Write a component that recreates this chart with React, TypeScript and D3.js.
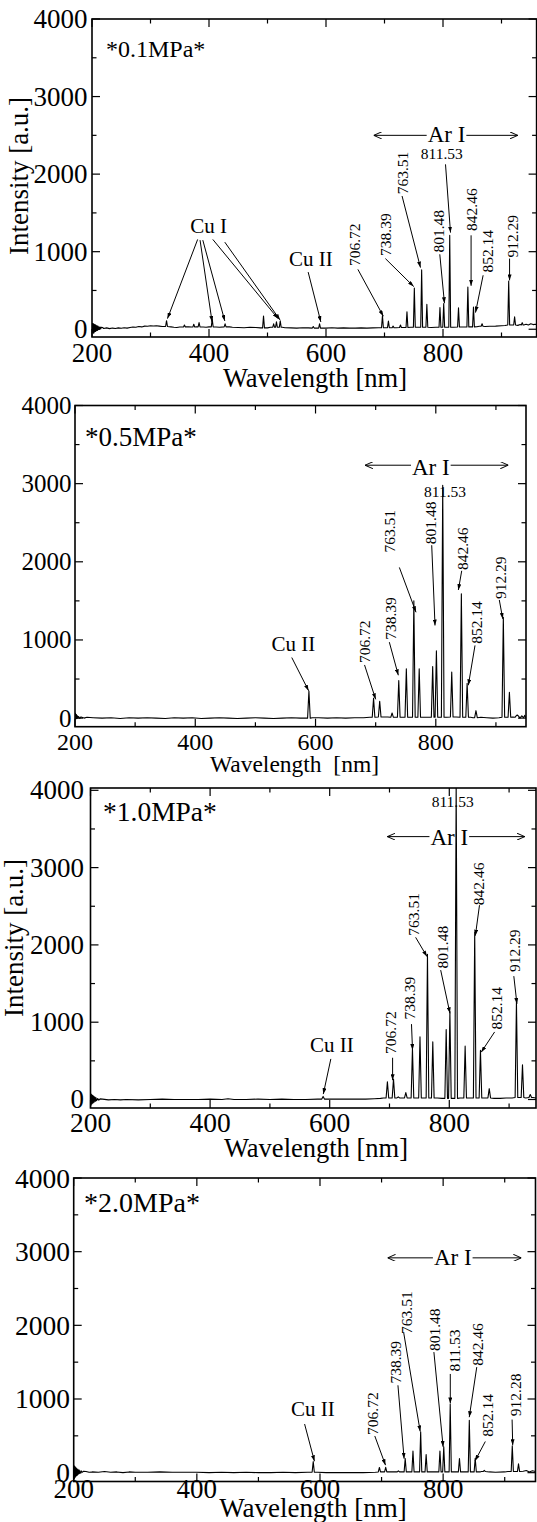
import React from "react";
import * as d3 from "d3";

const FONT = "'Liberation Serif','Times New Roman',Times,serif";

// ---------- shared axis data ----------
const xMajorTicks = [200, 400, 600, 800];
const xMinorTicks = [300, 500, 700, 900];
const yMajorTicks = [0, 1000, 2000, 3000, 4000];
const yMinorTicks = [500, 1500, 2500, 3500];
const xTitles = ["Wavelength [nm]", "Wavelength  [nm]", "Wavelength [nm]", "Wavelength [nm]"];
const yTitle = "Intensity [a.u.]";
const panelLabels = ["*0.1MPa*", "*0.5MPa*", "*1.0MPa*", "*2.0MPa*"];
const arLabel = "Ar I";

// ---------- panel 1 : 0.1 MPa ----------
const p1PeakWl = [327.4, 358, 374, 383, 405.5, 427.5, 493.2, 510.5, 515.3, 521.8, 578.2, 589.0, 696.5, 706.7, 714.7, 727.3, 738.4, 751.0, 763.5, 772.4, 794.8, 801.2, 811.5, 826.5, 842.5, 852.1, 866.8, 912.3, 922.4, 935.4];
const p1PeakInt = [110, 55, 65, 85, 130, 70, 170, 70, 95, 110, 35, 70, 175, 105, 40, 55, 225, 530, 765, 320, 280, 330, 1210, 275, 545, 285, 70, 622, 160, 85];
const p1BaseWl = [200.5, 201.3, 202.1, 202.9, 203.7, 204.5, 205.3, 206.1, 206.9, 207.7, 208.5, 209.3, 210.1, 211, 212, 213, 214, 215, 216, 218, 220, 225, 230, 235, 240, 245, 250, 255, 260, 265, 270, 275, 280, 285, 290, 295, 300, 305, 310, 315, 320, 335, 340, 345, 350, 365, 370, 378, 390, 395, 400, 412, 418, 435, 440, 450, 460, 470, 480, 488, 500, 505, 525, 530, 540, 550, 560, 570, 580, 600, 610, 620, 630, 640, 650, 660, 670, 680, 690, 720, 733, 745, 757, 768, 780, 788, 806, 818, 834, 848, 858, 862, 872, 880, 890, 900, 906, 918, 928, 932, 938, 942, 946, 950, 954, 958, 960];
const p1BaseInt = [80, -45, 75, -50, 65, -35, 60, -30, 50, -20, 45, -15, 40, -5, 32, 0, 28, 5, 25, 22, 10, 18, 8, 15, 10, 18, 12, 20, 14, 22, 28, 25, 35, 30, 40, 38, 45, 42, 45, 40, 35, 30, 25, 22, 28, 30, 28, 30, 28, 25, 30, 28, 25, 30, 25, 22, 20, 25, 22, 18, 18, 25, 25, 20, 18, 15, 20, 18, 15, 15, 20, 15, 18, 15, 15, 18, 15, 18, 20, 20, 22, 25, 25, 25, 22, 25, 25, 25, 28, 30, 32, 38, 35, 38, 40, 45, 48, 55, 50, 60, 55, 65, 55, 70, 60, 65, 60];
const p1VLabels: [string, number, number][] = [["706.72", 649, 815], ["738.39", 702, 945], ["763.51", 730, 1740], ["801.48", 793, 988], ["842.46", 849.5, 1267], ["852.14", 875.5, 730], ["912.29", 918, 924]];
const p1HLabels: [string, number, number][] = [["811.53", 798, 2200]];
const p1Species: [string, number, number][] = [["Cu I", 399.4, 1243], ["Cu II", 574, 815]];
const p1Arrows: [number, number, number, number][] = [[654.5, 772, 698, 168], [701.5, 911, 750, 550], [730, 1718, 761.5, 795], [794.5, 966, 802.5, 335], [804.3, 2126, 812.8, 1246], [848, 1211, 848, 560], [868.6, 696, 855.6, 215], [913.8, 911, 913.8, 630], [380.6, 1158, 329, 137], [384.7, 1149, 405.3, 94], [389.4, 1149, 427, 107], [406.5, 1158, 518, 137], [427, 1123, 521.4, 120], [569.5, 737, 591.2, 94]];
const p1ArI = [681.5, 928, 2500, 806, 2420];

// ---------- panel 2 : 0.5 MPa ----------
const p2PeakWl = [589.0, 696.5, 706.7, 727.3, 738.4, 751.0, 763.5, 772.4, 794.8, 801.0, 811.5, 826.5, 842.5, 852.1, 866.8, 912.3, 922.4, 935.4];
const p2PeakInt = [345, 255, 215, 65, 480, 630, 1500, 630, 660, 860, 2980, 590, 1590, 445, 95, 1290, 330, 40];
const p2BaseWl = [200, 200.8, 201.6, 202.4, 203.2, 204, 205, 206, 208, 210, 215, 220, 230, 245, 260, 275, 290, 305, 320, 335, 350, 365, 380, 395, 410, 425, 440, 455, 470, 485, 500, 515, 530, 545, 560, 575, 583, 595, 605, 620, 635, 650, 665, 680, 690, 715, 720, 733, 745, 757, 768, 780, 788, 806, 818, 834, 848, 858, 862, 875, 885, 895, 905, 917, 928, 932, 936, 940, 943, 946, 948, 950];
const p2BaseInt = [20, 60, -10, 45, -5, 30, 0, 20, -5, 15, 0, 10, 5, 0, 5, -5, 5, 0, 5, 0, -5, 5, 0, 5, -5, 0, 5, 0, -5, 0, 5, 0, -5, 0, 5, 0, 0, 5, 5, 0, 5, 0, 5, 5, 10, 15, 15, 10, 10, 10, 10, 10, 10, 10, 10, 15, 10, 10, 5, 10, 5, 0, 5, 10, 15, 10, 25, 0, 30, 5, 35, 0, 20];
const p2VLabels: [string, number, number][] = [["706.72", 680.6, 705], ["738.39", 724.7, 1002], ["763.51", 723, 2119], ["801.48", 790.4, 2225], ["842.46", 844.4, 1894], ["852.14", 868.5, 951], ["912.29", 908, 1524]];
const p2HLabels: [string, number, number][] = [["811.53", 815.3, 2828]];
const p2Species: [string, number, number][] = [["Cu II", 563.3, 855]];
const p2Arrows: [number, number, number, number][] = [[681.5, 680, 700, 240], [722.7, 972, 737.7, 548], [739.4, 1928, 767.1, 1354], [793.2, 2212, 798.7, 1185], [843.1, 1885, 837.5, 1639], [865.2, 930, 854.1, 420], [905.6, 1512, 911.3, 1270], [560.5, 775, 588.5, 350]];
const p2ArI = [682.3, 920.6, 3236, 791.7, 3117];

// ---------- panel 3 : 1.0 MPa ----------
const p3PeakWl = [589.0, 696.5, 706.7, 714.7, 727.3, 738.4, 751.0, 763.5, 772.4, 794.8, 801.0, 811.5, 826.5, 842.5, 852.1, 866.8, 912.3, 922.4, 935.4];
const p3PeakInt = [40, 230, 265, 35, 90, 660, 810, 1880, 745, 905, 1140, 4120, 690, 2165, 635, 140, 1270, 450, 65];
const p3BaseWl = [200.3, 201.1, 201.9, 202.7, 203.5, 204.3, 205.1, 206, 207, 208, 209, 210, 212, 214, 216, 220, 230, 240, 250, 260, 280, 300, 320, 340, 360, 380, 400, 420, 430, 440, 460, 480, 500, 520, 540, 560, 580, 600, 620, 640, 660, 675, 685, 690, 720, 733, 745, 757, 768, 780, 788, 806, 818, 834, 848, 858, 862, 875, 885, 895, 905, 917, 928, 940, 945];
const p3BaseInt = [80, -70, 65, -55, 55, -45, 45, -35, 35, -25, 25, -15, 12, -8, 8, 5, -5, 0, -5, 0, -5, 0, 5, 0, 0, 0, 5, 0, 10, 0, 0, 5, 0, 5, 0, 0, 5, 5, 5, 5, 5, 10, 15, 20, 20, 20, 20, 20, 20, 20, 15, 15, 20, 20, 20, 20, 20, 15, 15, 20, 20, 25, 20, 25, 20];
const p3VLabels: [string, number, number][] = [["706.72", 702.4, 590], ["738.39", 734, 1036], ["763.51", 739.5, 2120], ["801.48", 788.5, 1696], ["842.46", 848.8, 2514], ["852.14", 879.2, 905], ["912.29", 909, 1648]];
const p3HLabels: [string, number, number][] = [["811.53", 805.7, 3790]];
const p3Species: [string, number, number][] = [["Cu II", 603.6, 612]];
const p3Arrows: [number, number, number, number][] = [[705.2, 540, 705.2, 250], [736.8, 975, 738.5, 640], [743.7, 2098, 762.7, 1849], [785.6, 1674, 801.1, 1115], [850.5, 2514, 843.6, 2120], [875.8, 874, 853.4, 612], [907.9, 1596, 913.1, 1237], [601.9, 525, 589.3, 70]];
const p3ArI = [696.6, 926.3, 3401, 800, 3292];

// ---------- panel 4 : 2.0 MPa ----------
const p4PeakWl = [589.0, 696.5, 706.7, 727.3, 738.4, 751.0, 763.5, 772.4, 794.8, 801.0, 811.5, 826.5, 842.5, 852.1, 866.8, 912.3, 922.4];
const p4PeakInt = [150, 70, 72, 25, 190, 295, 555, 245, 295, 350, 930, 190, 710, 195, 30, 365, 120];
const p4BaseWl = [200.3, 201.1, 201.9, 202.7, 203.5, 204.3, 205.1, 206, 207, 208, 209, 210, 212, 214, 216, 220, 225, 230, 240, 250, 260, 270, 280, 290, 300, 320, 340, 360, 380, 400, 420, 440, 460, 480, 500, 520, 540, 560, 580, 596, 610, 630, 650, 670, 690, 700, 720, 733, 745, 757, 768, 780, 788, 806, 818, 834, 848, 860, 862, 875, 885, 900, 905, 917, 930, 935, 940, 945, 950];
const p4BaseInt = [100, -80, 85, -60, 70, -45, 55, -35, 45, -20, 35, -10, 25, 5, 20, 15, 5, 10, 5, 15, 5, 10, 0, 10, 5, 5, 10, 5, 5, 5, 0, 5, 0, 5, 0, 0, 5, 0, 5, 5, 0, 0, 0, 0, 5, 10, 10, 10, 10, 10, 10, 10, 10, 10, 10, 10, 10, 10, 15, 10, 5, 10, 15, 15, 20, 30, 10, 25, 15];
const p4VLabels: [string, number, number][] = [["706.72", 685, 512], ["738.39", 722.2, 1209], ["763.51", 740.6, 1884], ["801.48", 786.6, 1651], ["811.53", 818.4, 1372], ["842.46", 855.7, 1451], ["852.14", 871.3, 488], ["912.28", 917, 767]];
const p4HLabels: [string, number, number][] = [];
const p4Species: [string, number, number][] = [["Cu II", 588.3, 767]];
const p4Arrows: [number, number, number, number][] = [[689, 498, 706.4, 102], [726.6, 1186, 736.6, 190], [736, 1898, 762.7, 560], [785, 1637, 800, 350], [811.6, 1340, 811.6, 940], [854.6, 1433, 842.4, 753], [868.5, 423, 851.8, 160], [912, 721, 913, 372], [575, 660, 591, 155]];
const p4ArI = [709.7, 927, 2916, 815.6, 2814];

// ---------- layout (positions / styles) ----------
const layouts = [
  { left: 92, right: 536.6, top: 19, bottom: 337, xMax: 960, yMin: -100, yMax: 4000, yTickFont: 27, xTickFont: 27, xTickBase: 361.5, yTickRight: 87.5, titleBase: 387, titleX: 315, titleFont: 26.5, yTitleX: 28, yTitleY: 176, labelX: 106, labelBase: 57, labelFont: 24, hw: 1.6 },
  { left: 75, right: 526, top: 405.5, bottom: 726.7, xMax: 950, yMin: -110, yMax: 4000, yTickFont: 25, xTickFont: 24, xTickBase: 750, yTickRight: 71.5, titleBase: 772, titleX: 294.5, titleFont: 23.5, yTitleX: null, yTitleY: 0, labelX: 85, labelBase: 446, labelFont: 27, hw: 2.2 },
  { left: 90.5, right: 536, top: 788, bottom: 1108, xMax: 945, yMin: -110, yMax: 4030, yTickFont: 27, xTickFont: 27.5, xTickBase: 1132, yTickRight: 84, titleBase: 1157, titleX: 316, titleFont: 26.5, yTitleX: 23, yTitleY: 938, labelX: 103, labelBase: 821, labelFont: 27.5, hw: 2.2 },
  { left: 73.7, right: 535.5, top: 1178, bottom: 1481.5, xMax: 950, yMin: -120, yMax: 4000, yTickFont: 27.5, xTickFont: 27, xTickBase: 1498, yTickRight: 70, titleBase: 1516.5, titleX: 313, titleFont: 27, yTitleX: null, yTitleY: 0, labelX: 84, labelBase: 1212, labelFont: 28, hw: 1.8 },
];

const panels = [
  { peakWl: p1PeakWl, peakInt: p1PeakInt, baseWl: p1BaseWl, baseInt: p1BaseInt, vLabels: p1VLabels, hLabels: p1HLabels, species: p1Species, arrows: p1Arrows, arI: p1ArI },
  { peakWl: p2PeakWl, peakInt: p2PeakInt, baseWl: p2BaseWl, baseInt: p2BaseInt, vLabels: p2VLabels, hLabels: p2HLabels, species: p2Species, arrows: p2Arrows, arI: p2ArI },
  { peakWl: p3PeakWl, peakInt: p3PeakInt, baseWl: p3BaseWl, baseInt: p3BaseInt, vLabels: p3VLabels, hLabels: p3HLabels, species: p3Species, arrows: p3Arrows, arI: p3ArI },
  { peakWl: p4PeakWl, peakInt: p4PeakInt, baseWl: p4BaseWl, baseInt: p4BaseInt, vLabels: p4VLabels, hLabels: p4HLabels, species: p4Species, arrows: p4Arrows, arI: p4ArI },
];

type Pt = [number, number];

function buildSpectrum(baseWl: number[], baseInt: number[], peakWl: number[], peakInt: number[], hw: number): Pt[] {
  const pts: Pt[] = [];
  const nearest = (w: number) => {
    let bi = 0;
    let bd = Infinity;
    baseWl.forEach((b, i) => {
      const d = Math.abs(b - w);
      if (d < bd) { bd = d; bi = i; }
    });
    return baseInt[bi];
  };
  baseWl.forEach((w, i) => {
    if (!peakWl.some((p) => Math.abs(p - w) < hw + 0.3)) pts.push([w, baseInt[i]]);
  });
  peakWl.forEach((w, i) => {
    const f = nearest(w);
    pts.push([w - hw, f], [w, peakInt[i]], [w + hw, f]);
  });
  pts.sort((a, b) => a[0] - b[0]);
  return pts;
}

function Panel({ idx }: { idx: number }) {
  const L = layouts[idx];
  const P = panels[idx];
  const x = d3.scaleLinear().domain([200, L.xMax]).range([L.left, L.right]);
  const y = d3.scaleLinear().domain([L.yMin, L.yMax]).range([L.bottom, L.top]);
  const pts = buildSpectrum(P.baseWl, P.baseInt, P.peakWl, P.peakInt, L.hw);
  const line = d3.line<Pt>().x((d) => x(d[0])).y((d) => y(d[1]));
  const clipId = `clip-${idx}`;
  const inX = (v: number) => x(v) >= L.left - 0.5 && x(v) <= L.right + 0.5;
  const inY = (v: number) => y(v) >= L.top - 0.5 && y(v) <= L.bottom + 0.5;

  const tickLines: any[] = [];
  const addX = (v: number, len: number, key: string) => {
    if (!inX(v)) return;
    tickLines.push(<line key={key + "b"} x1={x(v)} x2={x(v)} y1={L.bottom} y2={L.bottom - len} />);
    tickLines.push(<line key={key + "t"} x1={x(v)} x2={x(v)} y1={L.top} y2={L.top + len} />);
  };
  const addY = (v: number, len: number, key: string) => {
    if (!inY(v)) return;
    tickLines.push(<line key={key + "l"} x1={L.left} x2={L.left + len} y1={y(v)} y2={y(v)} />);
    tickLines.push(<line key={key + "r"} x1={L.right} x2={L.right - len} y1={y(v)} y2={y(v)} />);
  };
  xMajorTicks.forEach((v) => addX(v, 8, "xM" + v));
  xMinorTicks.forEach((v) => addX(v, 4.5, "xm" + v));
  yMajorTicks.forEach((v) => addY(v, 8, "yM" + v));
  yMinorTicks.forEach((v) => addY(v, 4.5, "ym" + v));

  const [arL, arR, arI, arTx, arTy] = P.arI;
  const arHalf = (1.638 * 23) / 2;

  return (
    <g>
      <defs>
        <clipPath id={clipId}>
          <rect x={L.left} y={L.top} width={L.right - L.left} height={L.bottom - L.top} />
        </clipPath>
      </defs>

      {/* annotations */}
      <g fontFamily={FONT} fill="#000">
        {P.vLabels.map(([t, w, v], i) => (
          <text key={"v" + i} transform={`translate(${x(w)},${y(v)}) rotate(-90)`} fontSize={15.5} textAnchor="start" dominantBaseline="central">{t}</text>
        ))}
        {P.hLabels.map(([t, w, v], i) => (
          <text key={"h" + i} x={x(w)} y={y(v)} fontSize={15.5} textAnchor="middle">{t}</text>
        ))}
        {P.species.map(([t, w, v], i) => (
          <text key={"s" + i} x={x(w)} y={y(v)} fontSize={21} textAnchor="middle">{t}</text>
        ))}
        <text x={x(arTx)} y={y(arTy)} fontSize={23} textAnchor="middle">{arLabel}</text>
      </g>
      <g stroke="#000" strokeWidth={1} fill="none">
        {P.arrows.map(([w1, v1, w2, v2], i) => (
          <line key={"a" + i} x1={x(w1)} y1={y(v1)} x2={x(w2)} y2={y(v2)} markerEnd="url(#headFill)" />
        ))}
        <line x1={x(arTx) - arHalf - 1} y1={y(arI)} x2={x(arL)} y2={y(arI)} markerEnd="url(#headOpen)" />
        <line x1={x(arTx) + arHalf + 1} y1={y(arI)} x2={x(arR)} y2={y(arI)} markerEnd="url(#headOpen)" />
      </g>

      {/* spectrum */}
      <path d={line(pts) || ""} fill="none" stroke="#000" strokeWidth={1.1} strokeLinejoin="round" clipPath={`url(#${clipId})`} />

      {/* frame and ticks */}
      <rect x={L.left} y={L.top} width={L.right - L.left} height={L.bottom - L.top} fill="none" stroke="#000" strokeWidth={1.6} />
      <g stroke="#000" strokeWidth={1.2}>{tickLines}</g>

      {/* tick labels */}
      <g fontFamily={FONT} fill="#000">
        {xMajorTicks.filter(inX).map((v) => (
          <text key={"xl" + v} x={x(v)} y={L.xTickBase} fontSize={L.xTickFont} textAnchor="middle">{v}</text>
        ))}
        {yMajorTicks.filter(inY).map((v) => (
          <text key={"yl" + v} x={L.yTickRight} y={y(v)} fontSize={L.yTickFont} textAnchor="end" dominantBaseline="central">{v}</text>
        ))}
        <text x={L.titleX} y={L.titleBase} fontSize={L.titleFont} textAnchor="middle" style={{ whiteSpace: "pre" }}>{xTitles[idx]}</text>
        {L.yTitleX !== null && (
          <text transform={`translate(${L.yTitleX},${L.yTitleY}) rotate(-90)`} fontSize={27} textAnchor="middle">{yTitle}</text>
        )}
        <text x={L.labelX} y={L.labelBase} fontSize={L.labelFont}>{panelLabels[idx]}</text>
      </g>
    </g>
  );
}

export default function App() {
  return (
    <div style={{ position: "absolute", left: 0, top: 0, background: "#fff" }}>
      <svg width={537} height={1522} viewBox="0 0 537 1522" style={{ display: "block" }}>
        <defs>
          <marker id="headFill" viewBox="0 0 10 10" refX={10} refY={5} markerWidth={6} markerHeight={4} markerUnits="userSpaceOnUse" orient="auto" preserveAspectRatio="none">
            <path d="M0,0 L10,5 L0,10 z" fill="#000" />
          </marker>
          <marker id="headOpen" viewBox="0 0 10 10" refX={10} refY={5} markerWidth={8} markerHeight={7} markerUnits="userSpaceOnUse" orient="auto" preserveAspectRatio="none">
            <path d="M0,0 L10,5 L0,10" fill="none" stroke="#000" strokeWidth={1.3} />
          </marker>
        </defs>
        <rect x={0} y={0} width={537} height={1522} fill="#fff" />
        {panels.map((_, i) => (
          <Panel key={i} idx={i} />
        ))}
      </svg>
    </div>
  );
}
